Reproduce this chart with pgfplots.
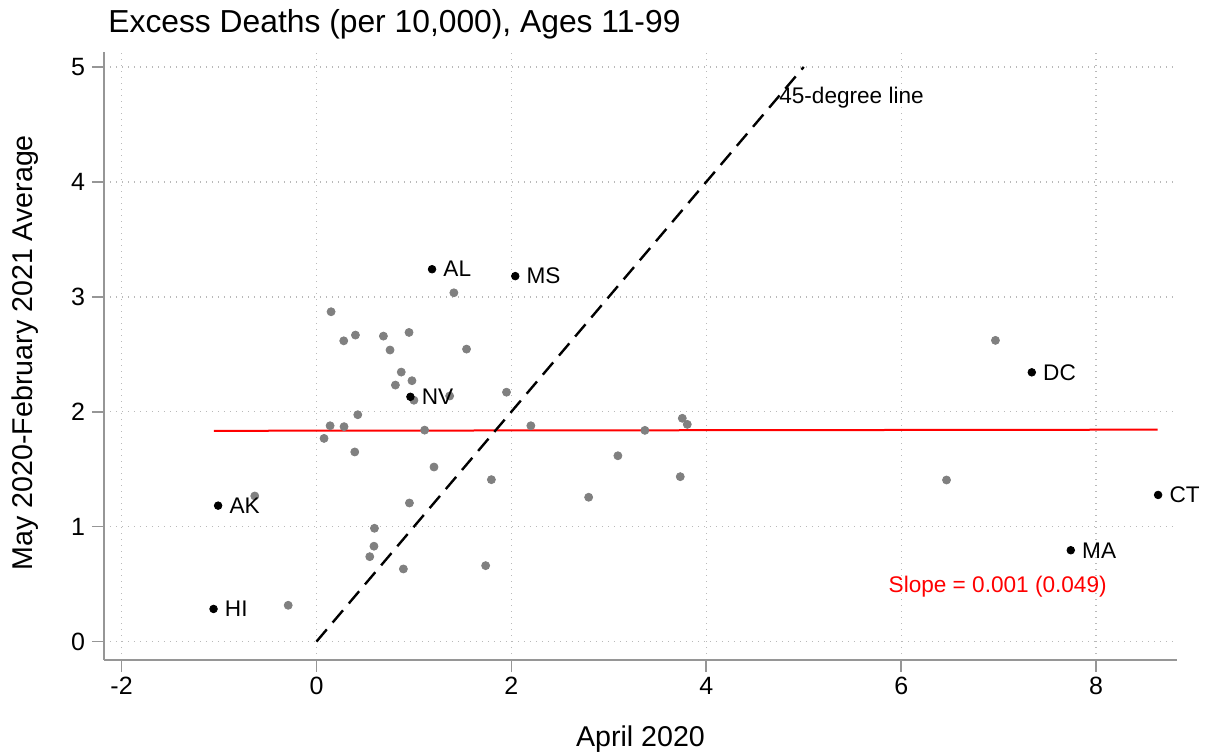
\documentclass[border=0pt]{standalone}
\usepackage{pgfplots}
\pgfplotsset{compat=1.18}
\usepackage{fontspec}
\setmainfont{Liberation Sans}
\definecolor{ptgray}{RGB}{128,128,128}
\definecolor{axgray}{RGB}{150,150,150}
\definecolor{gridgray}{RGB}{185,185,185}

\begin{document}
\begin{tikzpicture}
\begin{axis}[
    scale only axis,
    width=536.5pt, height=304pt,
    xmin=-2.18, xmax=8.83,
    ymin=-0.16, ymax=5.13,
    xtick={-2,0,2,4,6,8},
    ytick={0,1,2,3,4,5},
    axis lines=left,
    axis line style={-, draw=axgray, line width=0.8pt},
    tick align=outside,
    major tick length=6pt,
    tick style={draw=axgray, line width=0.8pt},
    grid=major,
    grid style={draw=gridgray, line width=0.7pt, dash pattern=on 0.7pt off 2.3pt},
    /pgf/number format/assume math mode=true,
    ticklabel style={font=\fontsize{12.5}{14}\selectfont},
    xticklabel style={inner sep=2.5pt},
    xlabel={April 2020},
    ylabel={May 2020-February 2021 Average},
    label style={font=\fontsize{14.3}{16}\selectfont},
    xlabel style={at={(axis description cs:0.5,0)}, anchor=base, yshift=-43.5pt},
    ylabel style={at={(axis description cs:0,0.5)}, anchor=base, xshift=1.7pt, yshift=35.5pt},
    clip=false,
]
% other states
\addplot[only marks, mark=*, mark size=2pt, color=ptgray] table {
x y
1.41 3.035
0.15 2.87
0.28 2.617
0.40 2.667
0.687 2.658
0.95 2.69
0.755 2.537
1.54 2.545
0.87 2.345
0.98 2.27
0.81 2.232
1.00 2.10
1.367 2.137
1.95 2.17
0.424 1.974
0.14 1.878
0.283 1.87
1.11 1.84
2.20 1.878
0.078 1.768
0.393 1.65
1.206 1.519
1.795 1.409
-0.633 1.267
-0.29 0.316
0.954 1.206
0.595 0.986
0.59 0.83
0.547 0.739
0.892 0.632
1.736 0.661
3.37 1.838
3.754 1.943
3.805 1.89
3.093 1.617
3.733 1.435
2.793 1.256
6.967 2.621
6.465 1.406
};
% labelled states
\addplot[only marks, mark=*, mark size=1.9pt, color=black,
    nodes near coords, point meta=explicit symbolic,
    every node near coord/.append style={anchor=west, inner sep=0pt, xshift=5.5pt,
        font=\fontsize{11.3}{13}\selectfont, text=black}]
    table[meta=lab] {
x y lab
1.186 3.24 AL
2.04 3.18 MS
0.964 2.13 NV
-1.009 1.183 AK
-1.056 0.284 HI
7.34 2.343 DC
8.636 1.276 CT
7.74 0.795 MA
};
% fitted line
\addplot[red, line width=1pt] coordinates {(-1.053,1.834) (8.63,1.844)};
% 45-degree line
\addplot[black, line width=1.2pt, dash pattern=on 8pt off 4.5pt] coordinates {(0,0) (5,5)};
\node[anchor=base west, inner sep=0pt, font=\fontsize{11.3}{13}\selectfont] at (axis cs:4.745,4.684) {45-degree line};
\node[anchor=base, inner sep=0pt, text=red, font=\fontsize{11.3}{13}\selectfont] at (axis cs:6.99,0.423) {Slope = 0.001 (0.049)};
\node[anchor=base west, inner sep=0pt, font=\fontsize{15.9}{18}\selectfont] at (rel axis cs:0,1) [xshift=2pt, yshift=9.5pt] {Excess Deaths (per 10,000), Ages 11-99};
\end{axis}
\pgfresetboundingbox
\path[use as bounding box] (-52pt,-47pt) rectangle (551.5pt,330pt);
\end{tikzpicture}
\end{document}
